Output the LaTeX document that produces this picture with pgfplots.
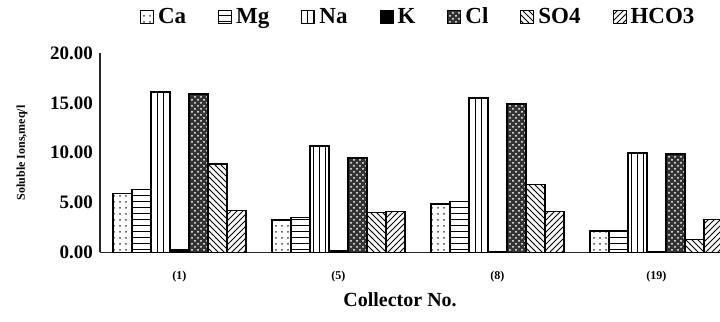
\documentclass[border=0pt]{standalone}
\usepackage{fontspec}
\setmainfont{Liberation Serif}
\usepackage{pgfplots}
\pgfplotsset{compat=1.18}
\usetikzlibrary{patterns}
\begin{document}
\begin{tikzpicture}
\begin{axis}[
  scale only axis, width=310pt, height=99.75pt,
  xmin=-0.5, xmax=3.4, ymin=0, ymax=20,
  axis x line*=bottom, axis y line*=left,
  axis line style={-, line width=0.8pt, black!85},
  ybar=0pt, bar width=0.1195,
  ytick={0,5,10,15,20},
  /pgf/number format/fixed, /pgf/number format/fixed zerofill, /pgf/number format/precision=2, /pgf/number format/assume math mode=true,
  yticklabel style={font=\bfseries\fontsize{9.5}{10}\selectfont},
  xtick={0,1,2,3}, xticklabels={(1),(5),(8),(19)},
  xticklabel style={font=\bfseries\fontsize{6}{7}\selectfont, yshift=-6pt},
  major tick length=0pt,
  ylabel={Soluble Ions,meq/l},
  every axis y label/.style={at={(axis description cs:0,0.5)}, xshift=-39pt, rotate=90, anchor=center, font=\bfseries\fontsize{6}{7}\selectfont},
  xlabel={Collector No.},
  every axis x label/.style={at={(axis description cs:0.484,0)}, yshift=-23.5pt, anchor=center, font=\bfseries\fontsize{10}{12}\selectfont},
  legend style={draw=none, at={(0.515,1.18)}, anchor=center, legend columns=-1,
    /tikz/every even column/.append style={column sep=14pt},
    font=\bfseries\fontsize{11.5}{12}\selectfont, inner sep=0pt},
  legend image code/.code={\draw[#1, line width=0.5pt] (0pt,-3.3pt) rectangle (6.5pt,3.2pt);},
  every axis plot/.append style={draw=black, line width=0.8pt},
]
\addplot[pattern=dots, pattern color=black!75] coordinates {(0,5.9) (1,3.25) (2,4.85) (3,2.15)};
\addplot[pattern=horizontal lines, pattern color=black] coordinates {(0,6.3) (1,3.5) (2,5.1) (3,2.15)};
\addplot[pattern=vertical lines, pattern color=black] coordinates {(0,16.1) (1,10.7) (2,15.5) (3,10.0)};
\addplot[fill=black] coordinates {(0,0.3) (1,0.15) (2,0.12) (3,0.1)};
\addplot[fill=black!80, postaction={pattern=crosshatch dots, pattern color=white}] coordinates {(0,15.9) (1,9.45) (2,14.9) (3,9.9)};
\addplot[pattern=north west lines, pattern color=black] coordinates {(0,8.85) (1,4.0) (2,6.8) (3,1.3)};
\addplot[pattern=north east lines, pattern color=black] coordinates {(0,4.2) (1,4.1) (2,4.1) (3,3.3)};
\legend{Ca,Mg,Na,K,Cl,SO4,HCO3}
\end{axis}
\pgfresetboundingbox
\path[use as bounding box] (-50pt,-34.75pt) rectangle (310pt,126.25pt);
\end{tikzpicture}
\end{document}
